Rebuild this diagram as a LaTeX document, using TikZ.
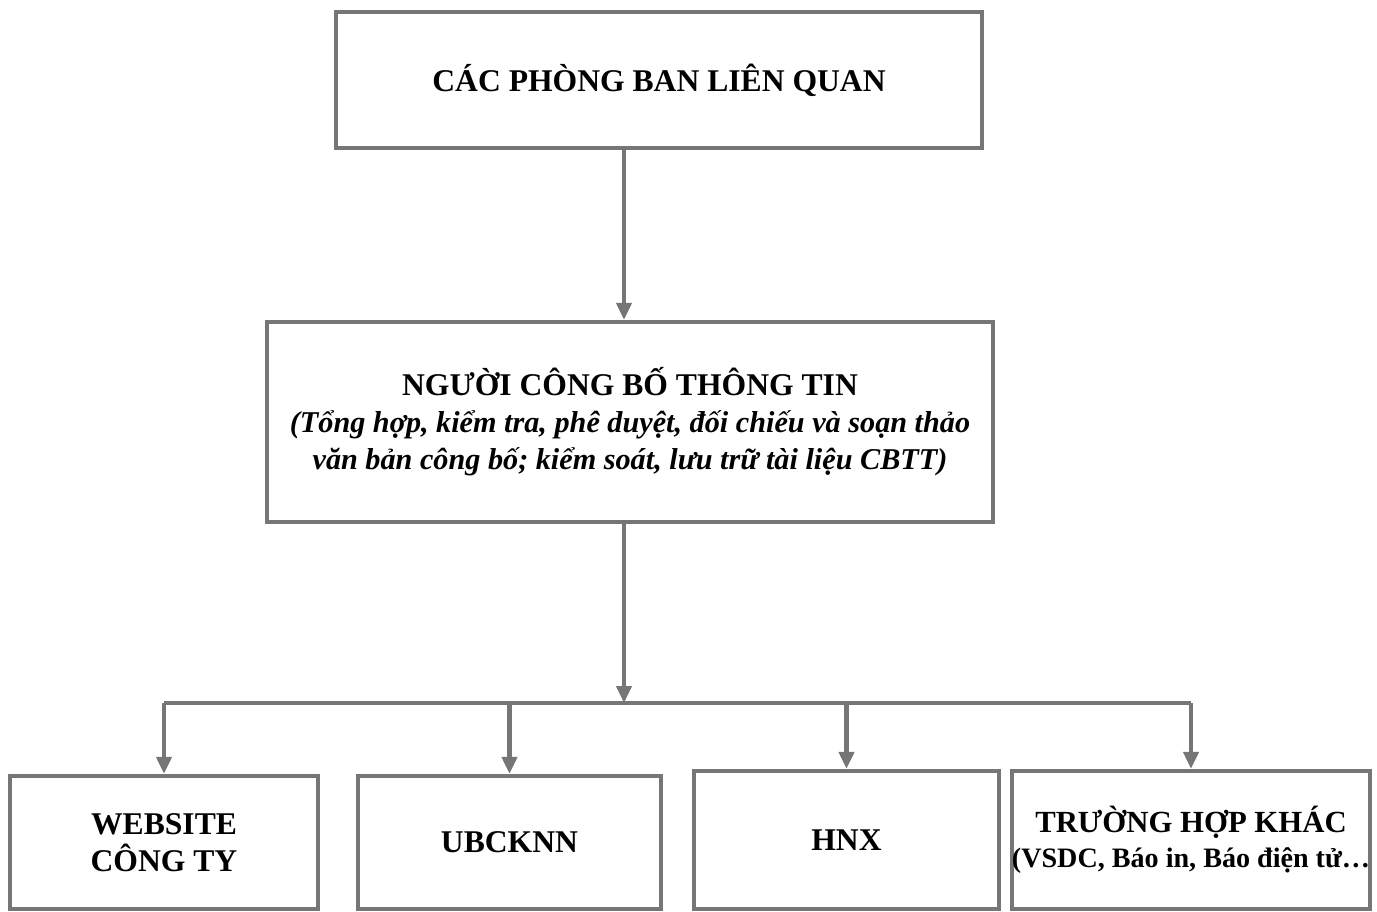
\documentclass[tikz,border=0pt]{standalone}
\usepackage{fontspec}
\setmainfont{Liberation Serif}
\usetikzlibrary{arrows.meta}
\definecolor{boxgray}{RGB}{118,118,118}

\begin{document}
\begin{tikzpicture}[x=0.02cm, y=-0.02cm,
  every node/.style = {shape=rectangle, draw=boxgray, line width=2.4pt,
    align=center, font=\bfseries\fontsize{18}{21}\selectfont, inner sep=0pt},
  link/.style = {draw=boxgray, line width=2.3pt,
    -{Triangle[width=0.3cm,length=0.34cm]}}
  ]
  \useasboundingbox (0,0) rectangle (1377,912);
  \node[minimum width=12.92cm, minimum height=2.72cm] (phong) at (659,80)
    {CÁC PHÒNG BAN LIÊN QUAN};
  \node[minimum width=14.52cm, minimum height=4cm] (cbtt) at (630,422)
    {NGƯỜI CÔNG BỐ THÔNG TIN\\
     \itshape\fontsize{17.2}{21}\selectfont (Tổng hợp, kiểm tra, phê duyệt, đối chiếu và soạn thảo\\
     \itshape\fontsize{17.2}{21}\selectfont văn bản công bố; kiểm soát, lưu trữ tài liệu CBTT)};
  \node[minimum width=6.16cm, minimum height=2.66cm] (web) at (164,842.5)
    {WEBSITE\\CÔNG TY};
  \node[minimum width=6.06cm, minimum height=2.66cm] (ubck) at (509.5,842.5)
    {UBCKNN};
  \node[minimum width=6.1cm, minimum height=2.76cm] (hnx) at (846.5,840)
    {HNX};
  \node[minimum width=7.16cm, minimum height=2.76cm] (khac) at (1191,840)
    {\fontsize{17.5}{21}\selectfont TRƯỜNG HỢP KHÁC\\[-1pt]
     {\fontsize{16}{19}\selectfont (VSDC, Báo in, Báo điện tử…}};
  \coordinate (bus) at (624,703);

  \draw[link] (phong.south -| bus) -- (cbtt.north -| bus);
  \draw[link] (cbtt.south -| bus) -- (bus);
  \draw[draw=boxgray, line width=2.3pt] (bus -| web.north) -- (bus -| khac.north);
  \foreach \n in {web, ubck, hnx, khac}
    \draw[link] (bus -| \n.north) -- (\n.north);
\end{tikzpicture}
\end{document}
